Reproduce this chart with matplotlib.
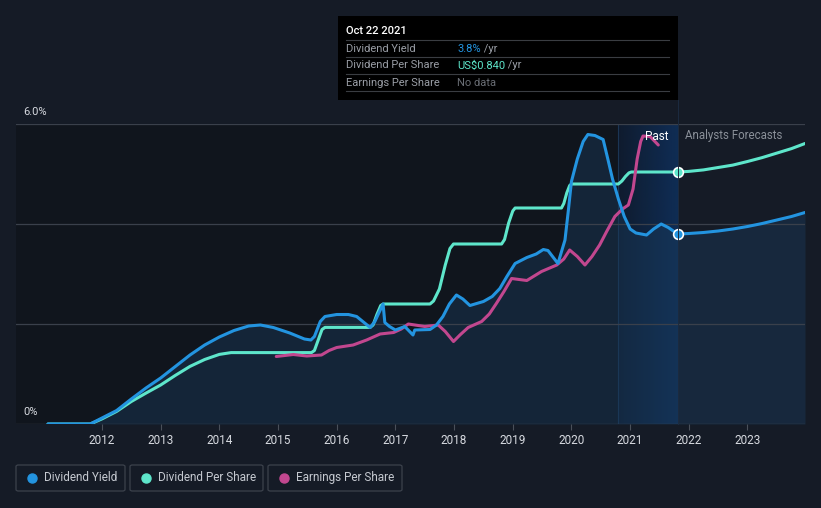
import matplotlib
matplotlib.use("Agg")
import matplotlib.pyplot as plt
import numpy as np
from matplotlib.patches import Rectangle, FancyBboxPatch
from matplotlib.lines import Line2D
from matplotlib.colors import LinearSegmentedColormap

plt.rcParams['font.family'] = ['Roboto', 'DejaVu Sans']

# ---------------- data ----------------
# Dividend yield (%), past
dy_x = [2011.08, 2011.8, 2012.0, 2012.25, 2012.5, 2012.75, 2013.0, 2013.25, 2013.5, 2013.75,
        2014.0, 2014.25, 2014.5, 2014.7, 2014.92, 2015.2, 2015.45, 2015.56, 2015.62, 2015.72,
        2015.8, 2016.0, 2016.2, 2016.34, 2016.57, 2016.65, 2016.79,
        2016.82, 2016.9, 2017.0, 2017.16, 2017.3, 2017.33, 2017.59, 2017.7, 2017.81, 2017.92,
        2018.04, 2018.15, 2018.27, 2018.5, 2018.65, 2018.78, 2018.9, 2019.04, 2019.24, 2019.4,
        2019.52, 2019.6, 2019.77, 2019.89, 2019.95, 2020.0, 2020.1, 2020.2, 2020.28, 2020.4,
        2020.54, 2020.62, 2020.7, 2020.8, 2020.9, 2021.0, 2021.1, 2021.28, 2021.4, 2021.53,
        2021.65, 2021.81]
dy_y = [0.0, 0.0, 0.12, 0.27, 0.5, 0.72, 0.92, 1.15, 1.38, 1.58,
        1.74, 1.87, 1.96, 1.98, 1.93, 1.82, 1.7, 1.68, 1.75, 2.05,
        2.15, 2.19, 2.19, 2.15, 1.93, 2.05, 2.4,
        2.03, 1.95, 1.88, 1.95, 1.78, 1.88, 1.89, 1.98, 2.15, 2.4,
        2.58, 2.5, 2.37, 2.45, 2.55, 2.71, 2.95, 3.21, 3.33, 3.4,
        3.49, 3.47, 3.21, 3.68, 4.3, 4.85, 5.3, 5.65, 5.79, 5.77,
        5.69, 5.3, 4.9, 4.5, 4.15, 3.9, 3.82, 3.78, 3.9, 4.0,
        3.93, 3.8]
# Dividend yield forecast (%)
dyf_x = [2021.81, 2022.0, 2022.25, 2022.5, 2022.75, 2023.0, 2023.25, 2023.5, 2023.75, 2023.98]
dyf_y = [3.8, 3.81, 3.83, 3.86, 3.9, 3.95, 4.01, 4.08, 4.15, 4.23]

# Dividend per share (US$), past
dps_x = [2011.08, 2011.8, 2012.0, 2012.25, 2012.5, 2012.75, 2013.0, 2013.25, 2013.5, 2013.75,
         2014.0, 2014.2, 2015.57, 2015.62, 2015.685, 2015.75, 2015.8,
         2016.57, 2016.62, 2016.685, 2016.75, 2016.79,
         2017.59, 2017.65, 2017.75, 2017.85, 2017.93, 2017.99,
         2018.81, 2018.86, 2018.93, 2019.0, 2019.04,
         2019.83, 2019.87, 2019.92, 2019.97, 2020.0,
         2020.8, 2020.86, 2020.92, 2020.98, 2021.02, 2021.81]
dps_y = [0.0, 0.0, 0.017, 0.042, 0.075, 0.103, 0.13, 0.162, 0.192, 0.215,
         0.232, 0.238, 0.238, 0.245, 0.28, 0.315, 0.322,
         0.322, 0.33, 0.365, 0.395, 0.40,
         0.40, 0.41, 0.45, 0.53, 0.585, 0.60,
         0.60, 0.615, 0.67, 0.71, 0.72,
         0.72, 0.735, 0.77, 0.795, 0.80,
         0.80, 0.81, 0.825, 0.837, 0.84, 0.84]
# Dividend per share forecast (US$)
dpsf_x = [2021.81, 2022.0, 2022.25, 2022.5, 2022.75, 2023.0, 2023.25, 2023.5, 2023.75, 2023.98]
dpsf_y = [0.84, 0.842, 0.847, 0.855, 0.863, 0.875, 0.888, 0.903, 0.918, 0.935]
DPS_SCALE = 6.0  # chart units (%-axis) per US$

# Earnings per share (chart units)
eps_x = [2014.97, 2015.26, 2015.49, 2015.74, 2015.87, 2016.0, 2016.28, 2016.51, 2016.74, 2016.97,
         2017.1, 2017.22, 2017.5, 2017.73, 2017.85, 2017.99, 2018.1, 2018.24, 2018.47, 2018.6,
         2018.72, 2018.85, 2018.98, 2019.24, 2019.49, 2019.75, 2019.87, 2019.97, 2020.1, 2020.23,
         2020.35, 2020.48, 2020.6, 2020.74, 2020.87, 2020.97, 2021.05, 2021.12, 2021.18, 2021.22,
         2021.34, 2021.48]
eps_y = [1.35, 1.39, 1.36, 1.38, 1.47, 1.53, 1.58, 1.68, 1.8, 1.83,
         1.9, 2.0, 1.95, 1.98, 1.85, 1.65, 1.78, 1.93, 2.05, 2.2,
         2.41, 2.65, 2.91, 2.87, 3.05, 3.18, 3.3, 3.48, 3.35, 3.18,
         3.35, 3.58, 3.85, 4.15, 4.3, 4.38, 4.7, 5.3, 5.65, 5.76,
         5.75, 5.58]

years = [2012, 2013, 2014, 2015, 2016, 2017, 2018, 2019, 2020, 2021, 2022, 2023]
ylabels = {6.0: "6.0%", 0.0: "0%"}
legend_labels = ["Dividend Yield", "Dividend Per Share", "Earnings Per Share"]

# ---------------- style ----------------
BG = "#151b26"
BLUE = "#2394e0"
TEAL = "#5ee6cb"
MAG = "#c2478f"
GRID = "#3a404b"
TXT = "#d7dae0"

W, H = 821, 508
fig = plt.figure(figsize=(W / 100, H / 100), dpi=100, facecolor=BG)

x0, x1 = 2010.535, 2023.98
ax_l, ax_r, ax_b, ax_t = 16, 805, 424, 124
ax = fig.add_axes([ax_l / W, (H - ax_b) / H, (ax_r - ax_l) / W, (ax_b - ax_t) / H])
ax.set_facecolor(BG)
ax.set_xlim(x0, x1)
ax.set_ylim(0, 6)
for s in ax.spines.values():
    s.set_visible(False)

now = 2021.81
band0 = 2020.8

# darker past background
ax.axvspan(x0, now, ymin=0, ymax=1, color="#0f131b", alpha=0.75, lw=0, zorder=0)
# past highlight band with horizontal gradient
grad = np.linspace(0, 1, 256).reshape(1, -1)
cmap = LinearSegmentedColormap.from_list("b", ["#0f1c30", "#0f2f58"])
ax.imshow(grad, extent=[band0, now, 0, 6], aspect="auto", cmap=cmap, zorder=0.5, alpha=0.95)
ax.axvline(band0, color="#1b3554", lw=0.8, zorder=0.6)

# fill under yield
fx = dy_x + dyf_x[1:]
fy = dy_y + dyf_y[1:]
ax.fill_between(fx, 0, fy, color="#1a3a5a", alpha=0.45, lw=0, zorder=1)

# grid
for gy in [0, 2, 4, 6]:
    ax.axhline(gy, color=GRID if gy else "#4a505a", lw=0.9, zorder=1.5)

# lines
dps_plot = [v * DPS_SCALE for v in dps_y]
dpsf_plot = [v * DPS_SCALE for v in dpsf_y]
kw = dict(lw=2.2, solid_capstyle="round", solid_joinstyle="round")
ax.plot(dps_x, dps_plot, color=TEAL, zorder=3, **kw)
ax.plot(dpsf_x, dpsf_plot, color=TEAL, zorder=3, **kw)
ax.plot(dy_x, dy_y, color=BLUE, zorder=4, **kw)
ax.plot(dyf_x, dyf_y, color=BLUE, zorder=4, **kw)
ax.plot(eps_x, eps_y, color=MAG, zorder=3.5, **kw)

ax.plot([now], [dps_plot[-1]], "o", ms=7, mfc=TEAL, mec="white", mew=1.2, zorder=6)
ax.plot([now], [dy_y[-1]], "o", ms=7, mfc=BLUE, mec="white", mew=1.2, zorder=6)

# ticks
ax.set_xticks(years)
ax.set_xticklabels([str(y) for y in years], color=TXT, fontsize=8.5)
ax.tick_params(axis="x", length=4, color="#4a505a", pad=3)
ax.set_yticks([])

ax.text(x0 + 0.13, 6.0 + 0.14, ylabels[6.0], color=TXT, fontsize=8, va="bottom", ha="left")
ax.text(x0 + 0.13, 0.0 + 0.14, ylabels[0.0], color=TXT, fontsize=8, va="bottom", ha="left")

ax.text(now - 0.15, 5.76, "Past", color="white", fontsize=8.5, ha="right", va="center", zorder=7)
ax.text(now + 0.12, 5.76, "Analysts Forecasts", color="#8a9099", fontsize=8.3, ha="left", va="center", zorder=7)

# vertical line at 'now' up to tooltip
fig.add_artist(Line2D([677.5 / W, 677.5 / W], [(H - 424) / H, (H - 100) / H], color="#1c2b40", lw=0.7, zorder=0.5))

# tooltip
tx0, ty0, tx1, ty1 = 338, 16, 678, 100
fig.add_artist(Rectangle((tx0 / W, (H - ty1) / H), (tx1 - tx0) / W, (ty1 - ty0) / H,
                         facecolor="#000000", edgecolor="none", zorder=10))
def fy_(py):
    return (H - py) / H
fig.text(346 / W, fy_(31), "Oct 22 2021", color="white", fontsize=8, va="center", ha="left",
         fontweight="medium", zorder=11)
for sy in [40, 57, 74, 91]:
    fig.add_artist(Line2D([346 / W, 669 / W], [fy_(sy), fy_(sy)], color="#3a3d42", lw=0.8, zorder=11))
rows = [("Dividend Yield", "3.8%", BLUE, " /yr"),
        ("Dividend Per Share", "US$0.840", TEAL, " /yr"),
        ("Earnings Per Share", "No data", "#6a6e75", "")]
for i, (lab, val, col, suf) in enumerate(rows):
    yy = fy_(48.5 + 17 * i)
    fig.text(346 / W, yy, lab, color="#9a9ea6", fontsize=8, va="center", ha="left", zorder=11)
    t = fig.text(457 / W, yy, val, color=col, fontsize=8, va="center", ha="left", zorder=11)
    if suf:
        fig.canvas.draw()
        bb = t.get_window_extent()
        fig.text(bb.x1 / W, yy, suf, color="#9a9ea6", fontsize=8, va="center", ha="left", zorder=11)

# legend boxes
boxes = [(16, 125), (130, 263), (268, 402)]
cols = [BLUE, TEAL, MAG]
for (bx0, bx1), lab, c in zip(boxes, legend_labels, cols):
    fig.add_artist(FancyBboxPatch((bx0 / W, fy_(491)), (bx1 - bx0) / W, 26 / H,
                                  boxstyle="round,pad=0,rounding_size=0.003",
                                  facecolor=BG, edgecolor="#3c424c", lw=0.9))
    fig.add_artist(Line2D([(bx0 + 16) / W], [fy_(477.5)], marker="o", ms=6.5, color=c, mec=c))
    fig.text((bx0 + 28) / W, fy_(477.5), lab, color="#c5c9d0", fontsize=8.5, va="center", ha="left")

fig.savefig("out.png", dpi=100, facecolor=BG)
